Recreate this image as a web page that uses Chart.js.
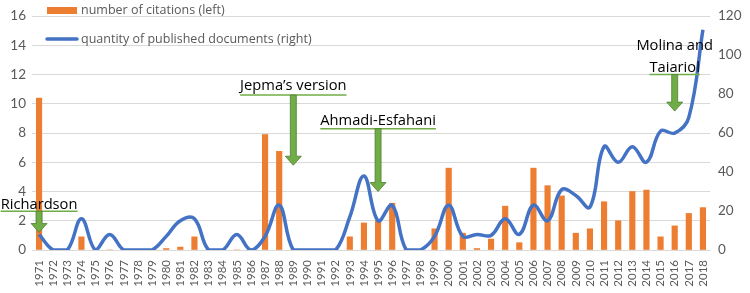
<!DOCTYPE html>
<html>
<head>
<meta charset="utf-8">
<script src="https://cdn.jsdelivr.net/npm/chart.js@4"></script>
<style>
  html, body { margin: 0; padding: 0; background: #fff; }
  #wrap { width: 750px; height: 293px; position: relative; }
</style>
</head>
<body>
<div id="wrap"><canvas id="chart" width="750" height="293"></canvas></div>
<script>
// ===== Data =====
const years = [];
for (let y = 1971; y <= 2018; y++) years.push(String(y));

// number of citations (left axis)
const citations = [
  10.4, 0, 0, 0.9, 0, 0, 0, 0, 0, 0.1,   // 1971-1980
  0.2, 0.9, 0, 0, 0, 0, 7.9, 6.75, 0, 0, // 1981-1990
  0, 0, 0.9, 1.85, 2.0, 3.2, 0, 0, 1.45, 5.6, // 1991-2000
  1.15, 0.1, 0.75, 3.0, 0.5, 5.6, 4.4, 3.7, 1.15, 1.45, // 2001-2010
  3.3, 2.0, 4.0, 4.1, 0.9, 1.65, 2.5, 2.9 // 2011-2018
];

// quantity of published documents (right axis)
const documents = [
  8, 0, 0, 16, 0, 8, 0, 0, 0, 7,       // 1971-1980
  15, 16, 0, 0, 8, 0, 7, 23, 0, 0,     // 1981-1990
  0, 0, 17, 38, 15, 23, 0, 0, 7, 23,   // 1991-2000
  7, 8, 7.5, 16, 8, 23, 15, 31, 28, 22, // 2001-2010
  53, 45, 53, 45, 61, 60, 68, 113      // 2011-2018
];

const leftTicks = { min: 0, max: 16, step: 2 };
const rightTicks = { min: 0, max: 120, step: 20 };

// callouts: label lines, year the arrow points at, text / underline / tip heights on the left scale
const callouts = [
  { lines: ['Richardson'], year: '1971', textAt: 3.1, lineAt: 2.65, tipAt: 1.2 },
  { lines: ['Jepma\u2019s version'], year: '1989', textAt: 11.2, lineAt: 10.6, tipAt: 5.8 },
  { lines: ['Ahmadi-Esfahani'], year: '1995', textAt: 8.85, lineAt: 8.3, tipAt: 4.0 },
  { lines: ['Molina and', 'Taiariol'], year: '2016', textAt: 13.95, lineAt: 12.0, tipAt: 9.5 }
];

// ===== Styles =====
const ORANGE = '#ED7D31', BLUE = '#4472C4', GREEN = '#70AD47', GREEN_DARK = '#507E32';
const GRID = '#d9d9d9', TICK = '#595959';
const FONT = 'Lato, "Open Sans", sans-serif';
const TEXT_FONT = '"Open Sans", Lato, sans-serif';

// ===== Custom drawing: legend + callouts =====
const overlay = {
  id: 'overlay',
  afterDatasetsDraw(chart) {
    const ctx = chart.ctx;
    const xs = chart.scales.x, yl = chart.scales.y;
    ctx.save();

    // legend
    ctx.fillStyle = ORANGE;
    ctx.fillRect(47, 7, 30, 7);
    ctx.strokeStyle = BLUE;
    ctx.lineWidth = 3.5;
    ctx.lineCap = 'round';
    ctx.beginPath(); ctx.moveTo(47, 39); ctx.lineTo(77, 39); ctx.stroke();
    ctx.font = '12.5px ' + TEXT_FONT;
    ctx.fillStyle = TICK;
    ctx.textBaseline = 'middle';
    ctx.textAlign = 'left';
    ctx.fillText('number of citations (left)', 81, 10);
    ctx.fillText('quantity of published documents (right)', 81, 39);

    // callouts
    callouts.forEach(c => {
      const x = xs.getPixelForValue(c.year);
      const yText = yl.getPixelForValue(c.textAt);
      const yLine = yl.getPixelForValue(c.lineAt);
      const yTip = yl.getPixelForValue(c.tipAt);
      ctx.font = '14.7px ' + TEXT_FONT;
      ctx.fillStyle = '#000';
      ctx.textAlign = 'center';
      let lastW = 0;
      c.lines.forEach((t, i) => {
        ctx.fillText(t, x, yText + i * 22);
        lastW = ctx.measureText(t).width;
      });
      // underline
      ctx.strokeStyle = GREEN;
      ctx.lineWidth = 1.5;
      ctx.lineCap = 'butt';
      ctx.beginPath(); ctx.moveTo(x - lastW / 2, yLine); ctx.lineTo(x + lastW / 2, yLine); ctx.stroke();
      // arrow
      const headH = 9, headW = 8, shaftW = 3;
      ctx.beginPath();
      ctx.moveTo(x - shaftW, yLine);
      ctx.lineTo(x + shaftW, yLine);
      ctx.lineTo(x + shaftW, yTip - headH);
      ctx.lineTo(x + headW, yTip - headH);
      ctx.lineTo(x, yTip);
      ctx.lineTo(x - headW, yTip - headH);
      ctx.lineTo(x - shaftW, yTip - headH);
      ctx.closePath();
      ctx.fillStyle = GREEN;
      ctx.fill();
      ctx.strokeStyle = GREEN_DARK;
      ctx.lineWidth = 0.8;
      ctx.stroke();
    });
    ctx.restore();
  }
};

// ===== Chart =====
const ctx = document.getElementById('chart').getContext('2d');
new Chart(ctx, {
  type: 'bar',
  data: {
    labels: years,
    datasets: [
      { type: 'line', label: 'quantity of published documents (right)', data: documents,
        borderColor: BLUE, borderWidth: 3.5, tension: 0.4, pointRadius: 0,
        yAxisID: 'y2', order: 0, fill: false },
      { type: 'bar', label: 'number of citations (left)', data: citations,
        backgroundColor: ORANGE, barThickness: 5.5, yAxisID: 'y', order: 1 }
    ]
  },
  options: {
    responsive: false, animation: false,
    layout: { padding: { top: 15, left: 0, right: 0, bottom: 0 } },
    plugins: { legend: { display: false }, tooltip: { enabled: false } },
    scales: {
      x: {
        offset: true,
        grid: { display: false },
        border: { color: GRID },
        ticks: { autoSkip: false, minRotation: 90, maxRotation: 90, color: TICK,
                 font: { family: FONT, size: 11.5 }, padding: 2 },
        afterFit: s => { s.height = 43; }
      },
      y: {
        position: 'left', min: leftTicks.min, max: leftTicks.max,
        ticks: { stepSize: leftTicks.step, color: TICK, font: { family: FONT, size: 13.5 }, padding: 6 },
        grid: { color: GRID, drawTicks: false },
        border: { display: false },
        afterFit: s => { s.width = 32; }
      },
      y2: {
        position: 'right', min: rightTicks.min, max: rightTicks.max,
        ticks: { stepSize: rightTicks.step, color: TICK, font: { family: FONT, size: 13.5 }, padding: 8 },
        grid: { display: false, drawTicks: false },
        border: { display: false },
        afterFit: s => { s.width = 40; }
      }
    }
  },
  plugins: [overlay]
});
</script>
</body>
</html>
